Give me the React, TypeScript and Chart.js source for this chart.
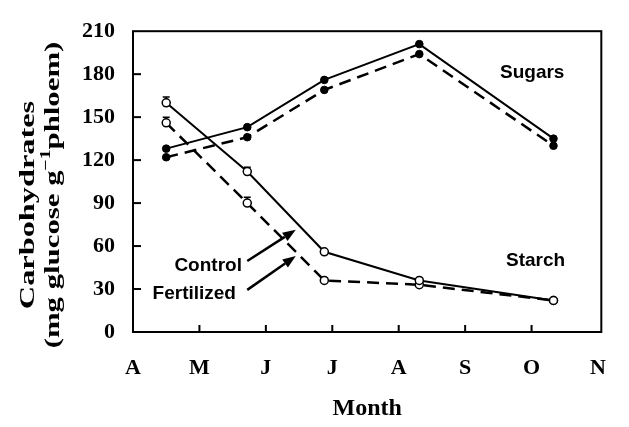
import React, { useEffect, useRef } from 'react';
import { Chart, registerables } from 'chart.js';
Chart.register(...registerables);

// ---------- data ----------
const monthLabels = ['A', 'M', 'J', 'J', 'A', 'S', 'O', 'N'];
const sampleMonths = [0.5, 1.72, 2.88, 4.31, 6.33];
const sugarsControl = [128, 143, 176, 201, 135];
const sugarsFertilized = [122, 136, 169, 194, 130];
const starchControl = [160, 112, 56, 36, 22];
const starchFertilized = [146, 90, 36, 33, 22];
const starchControlErr = [4, 3, 0, 0, 0];
const starchFertilizedErr = [4, 4, 0, 0, 0];
const yTickValues = [0, 30, 60, 90, 120, 150, 180, 210];

// ---------- annotations (data coordinates) ----------
const labelNotes = [
  { text: 'Sugars', x: 6.01, y: 181, align: 'center' },
  { text: 'Starch', x: 6.06, y: 50, align: 'center' },
  { text: 'Control', x: 1.64, y: 46.4, align: 'right' },
  { text: 'Fertilized', x: 1.55, y: 27, align: 'right' },
];
const arrowNotes = [
  { from: [1.72, 49.6], to: [2.45, 71.3] },
  { from: [1.72, 29.4], to: [2.45, 53] },
];

const SERIF = '"Liberation Serif", "Times New Roman", serif';
const SANS = '"Liberation Sans", Arial, sans-serif';

const toXY = (ys: number[]) => ys.map((y, i) => ({ x: sampleMonths[i], y }));

const decorPlugin = {
  id: 'decor',
  beforeDatasetsDraw(chart: any) {
    const { ctx, chartArea: a, scales } = chart;
    ctx.save();
    ctx.strokeStyle = '#000';
    ctx.lineWidth = 2;
    ctx.strokeRect(a.left, a.top, a.right - a.left, a.bottom - a.top);
    // inward ticks
    for (let i = 1; i < monthLabels.length - 1; i++) {
      const px = scales.x.getPixelForValue(i);
      ctx.beginPath();
      ctx.moveTo(px, a.bottom);
      ctx.lineTo(px, a.bottom - 7);
      ctx.stroke();
    }
    for (let i = 1; i < yTickValues.length - 1; i++) {
      const py = scales.y.getPixelForValue(yTickValues[i]);
      ctx.beginPath();
      ctx.moveTo(a.left, py);
      ctx.lineTo(a.left + 8, py);
      ctx.stroke();
    }
    ctx.restore();
  },
  afterDatasetsDraw(chart: any) {
    const { ctx, scales } = chart;
    ctx.save();
    ctx.strokeStyle = '#000';
    ctx.lineWidth = 1.5;
    const errs = [[starchControlErr, starchControl], [starchFertilizedErr, starchFertilized]] as const;
    errs.forEach(([err, vals]) => {
      err.forEach((e, i) => {
        if (!e) return;
        const px = scales.x.getPixelForValue(sampleMonths[i]);
        const py0 = scales.y.getPixelForValue(vals[i]) - 4;
        const py1 = Math.min(py0, scales.y.getPixelForValue(vals[i] + e));
        ctx.beginPath();
        ctx.moveTo(px, py0);
        ctx.lineTo(px, py1);
        ctx.moveTo(px - 3.5, py1);
        ctx.lineTo(px + 3.5, py1);
        ctx.stroke();
      });
    });
    ctx.restore();
  },
  afterDraw(chart: any) {
    const { ctx, scales, chartArea: a } = chart;
    ctx.save();
    ctx.fillStyle = '#000';
    ctx.strokeStyle = '#000';
    // text labels
    ctx.font = `bold 19px ${SANS}`;
    ctx.textBaseline = 'middle';
    labelNotes.forEach((n) => {
      ctx.textAlign = n.align as CanvasTextAlign;
      ctx.fillText(n.text, scales.x.getPixelForValue(n.x), scales.y.getPixelForValue(n.y));
    });
    // arrows
    arrowNotes.forEach((n) => {
      const x0 = scales.x.getPixelForValue(n.from[0]);
      const y0 = scales.y.getPixelForValue(n.from[1]);
      const x1 = scales.x.getPixelForValue(n.to[0]);
      const y1 = scales.y.getPixelForValue(n.to[1]);
      const ang = Math.atan2(y1 - y0, x1 - x0);
      const hl = 13, hw = 5;
      const bx = x1 - hl * Math.cos(ang);
      const by = y1 - hl * Math.sin(ang);
      ctx.lineWidth = 2.5;
      ctx.beginPath();
      ctx.moveTo(x0, y0);
      ctx.lineTo(bx, by);
      ctx.stroke();
      ctx.beginPath();
      ctx.moveTo(x1, y1);
      ctx.lineTo(bx + hw * Math.sin(ang), by - hw * Math.cos(ang));
      ctx.lineTo(bx - hw * Math.sin(ang), by + hw * Math.cos(ang));
      ctx.closePath();
      ctx.fill();
    });
    // x title
    ctx.font = `bold 24px ${SERIF}`;
    ctx.textAlign = 'center';
    ctx.textBaseline = 'middle';
    ctx.fillText('Month', (a.left + a.right) / 2, 409);
    // y title (two lines, rotated)
    const drawRot = (cx: number, cy: number, parts: { t: string; s: number; rise: number }[], stretch: number) => {
      ctx.save();
      ctx.translate(cx, cy);
      ctx.rotate(-Math.PI / 2);
      ctx.scale(stretch, 1);
      ctx.textAlign = 'left';
      ctx.textBaseline = 'middle';
      let total = 0;
      const widths = parts.map((p) => {
        ctx.font = `bold ${p.s}px ${SERIF}`;
        const w = ctx.measureText(p.t).width;
        total += w;
        return w;
      });
      let x = -total / 2;
      parts.forEach((p, i) => {
        ctx.font = `bold ${p.s}px ${SERIF}`;
        ctx.fillText(p.t, x, -p.rise);
        x += widths[i];
      });
      ctx.restore();
    };
    drawRot(28, 205, [{ t: 'Carbohydrates', s: 22, rise: 0 }], 1.47);
    drawRot(53, 195, [
      { t: '(mg glucose g', s: 22, rise: 0 },
      { t: '\u22121', s: 14, rise: 7 },
      { t: 'phloem)', s: 22, rise: 0 },
    ], 1.4);
    ctx.restore();
  },
};

export default function App() {
  const ref = useRef<HTMLCanvasElement>(null);
  useEffect(() => {
    document.body.style.margin = '0';
    const base = { borderColor: '#000', pointBorderColor: '#000', fill: false, tension: 0 };
    const solidLine = { ...base, borderWidth: 2 };
    const dashLine = { ...base, borderWidth: 2.5, borderDash: [12, 7] };
    const chart = new Chart(ref.current as HTMLCanvasElement, {
      type: 'line',
      data: {
        datasets: [
          { ...solidLine, label: 'Sugars Control', data: toXY(sugarsControl), pointRadius: 3.8, pointBackgroundColor: '#000', pointBorderWidth: 1 },
          { ...dashLine, label: 'Sugars Fertilized', data: toXY(sugarsFertilized), pointRadius: 3.8, pointBackgroundColor: '#000', pointBorderWidth: 1 },
          { ...solidLine, label: 'Starch Control', data: toXY(starchControl), pointRadius: 4, pointBackgroundColor: '#fff', pointBorderWidth: 1.5 },
          { ...dashLine, label: 'Starch Fertilized', data: toXY(starchFertilized), pointRadius: 4, pointBackgroundColor: '#fff', pointBorderWidth: 1.5 },
        ] as any,
      },
      options: {
        animation: false,
        responsive: true,
        maintainAspectRatio: false,
        layout: { padding: { top: 20, right: 9, left: 0, bottom: 0 } },
        plugins: { legend: { display: false }, tooltip: { enabled: false } },
        scales: {
          x: {
            type: 'linear',
            min: 0,
            max: 7.05,
            grid: { display: false, drawTicks: false },
            border: { display: false },
            afterBuildTicks: (s: any) => { s.ticks = monthLabels.map((_, i) => ({ value: i })); },
            afterFit: (s: any) => { s.height = 95; },
            ticks: {
              autoSkip: false,
              maxRotation: 0,
              padding: 23,
              color: '#000',
              font: { family: SERIF, size: 22, weight: 'bold' },
              callback: (v: any) => monthLabels[Math.round(v)] ?? '',
            },
          },
          y: {
            min: 0,
            max: 210,
            grid: { display: false, drawTicks: false },
            border: { display: false },
            afterBuildTicks: (s: any) => { s.ticks = yTickValues.map((v) => ({ value: v })); },
            afterFit: (s: any) => { s.width = 133; },
            ticks: {
              padding: 18,
              color: '#000',
              font: { family: SERIF, size: 22, weight: 'bold' },
            },
          },
        },
      } as any,
      plugins: [decorPlugin],
    });
    return () => chart.destroy();
  }, []);
  return (
    <div style={{ width: 629, height: 427, position: 'relative' }}>
      <canvas ref={ref} />
    </div>
  );
}
